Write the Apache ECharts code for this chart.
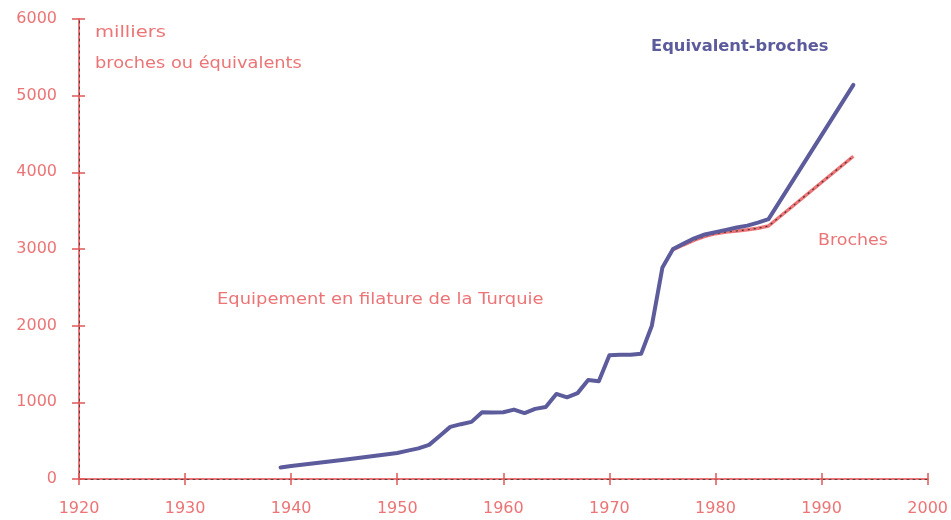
<!DOCTYPE html>
<html>
<head>
<meta charset="utf-8">
<script src="https://cdn.jsdelivr.net/npm/echarts@6/dist/echarts.min.js"></script>
<style>html,body{margin:0;padding:0;background:#fff;}#c{width:951px;height:520px;}</style>
</head>
<body>
<div id="c"></div>
<script>
// Data
const equivYears  = [1939,1940,1945,1950,1951,1952,1953,1954,1955,1956,1957,1958,1959,1960,1961,1962,1963,1964,1965,1966,1967,1968,1969,1970,1971,1972,1973,1974,1975,1976,1977,1978,1979,1980,1981,1982,1983,1984,1985,1993];
const equivValues = [150,170,250,340,370,400,445,560,680,715,745,870,868,870,905,860,915,940,1110,1065,1120,1290,1275,1615,1620,1620,1635,2000,2760,3000,3070,3140,3190,3220,3250,3280,3305,3345,3390,5140];
const brochesYears  = [1976,1977,1978,1979,1980,1981,1982,1983,1984,1985,1993];
const brochesValues = [2990,3055,3115,3165,3200,3220,3235,3250,3270,3300,4210];
const xTicks = [1920,1930,1940,1950,1960,1970,1980,1990,2000];
const yTicks = [0,1000,2000,3000,4000,5000,6000];

const RED = '#ec7476';
const BLUE = '#5c5b9c';
const FONT = 'DejaVu Sans';

const pairs = (xs, ys) => xs.map((x, i) => [x, ys[i]]);

const chart = echarts.init(document.getElementById('c'), null, {renderer: 'canvas'});

const xBase = {
  type: 'value', min: xTicks[0], max: xTicks[xTicks.length - 1], interval: 10,
  splitLine: {show: false}, position: 'bottom', gridIndex: 0
};
const yBase = {
  type: 'value', min: yTicks[0], max: yTicks[yTicks.length - 1], interval: 1000,
  splitLine: {show: false}, position: 'left', gridIndex: 0
};

function label(text, x, y, sx, color, weight) {
  return {
    type: 'text', x: x, y: y, scaleX: sx, scaleY: 1,
    style: {text: text, fill: color, font: (weight || '') + ' 16px "DejaVu Sans"',
      verticalAlign: 'middle', align: 'left'}
  };
}

chart.setOption({
  animation: false,
  backgroundColor: '#fff',
  grid: {left: 79, right: 23, top: 19, bottom: 41, containLabel: false},
  xAxis: [
    Object.assign({}, xBase, {
      axisLine: {show: true, lineStyle: {color: RED, width: 2}},
      axisTick: {show: true, inside: false, length: 6, lineStyle: {color: '#e05858', width: 1.5}},
      axisLabel: {show: true, margin: 22, color: RED, fontFamily: FONT, fontSize: 16,
        formatter: v => String(v)}
    }),
    Object.assign({}, xBase, {
      axisLine: {show: true, lineStyle: {color: '#333', width: 1, type: [2, 4], opacity: 0.8}},
      axisTick: {show: true, inside: true, length: 6, lineStyle: {color: '#e05858', width: 1.5}},
      axisLabel: {show: false}
    })
  ],
  yAxis: [
    Object.assign({}, yBase, {
      axisLine: {show: true, lineStyle: {color: RED, width: 2}},
      axisTick: {show: true, inside: false, length: 7, lineStyle: {color: '#e05858', width: 1.5}},
      axisLabel: {show: true, margin: 22, color: RED, fontFamily: FONT, fontSize: 16,
        formatter: v => String(v)}
    }),
    Object.assign({}, yBase, {
      axisLine: {show: true, lineStyle: {color: '#333', width: 1, type: [2, 4], opacity: 0.8}},
      axisTick: {show: true, inside: true, length: 6, lineStyle: {color: '#e05858', width: 1.5}},
      axisLabel: {show: false}
    })
  ],
  series: [
    {
      name: 'Broches', type: 'line', xAxisIndex: 0, yAxisIndex: 0,
      data: pairs(brochesYears, brochesValues), showSymbol: false, symbol: 'none',
      lineStyle: {color: RED, width: 3.5}, z: 3
    },
    {
      name: 'Broches (pointillé)', type: 'line', xAxisIndex: 0, yAxisIndex: 0,
      data: pairs(brochesYears, brochesValues), showSymbol: false, symbol: 'none',
      lineStyle: {color: '#222', width: 1.2, type: [2, 4], opacity: 0.8}, z: 4
    },
    {
      name: 'Equivalent-broches', type: 'line', xAxisIndex: 0, yAxisIndex: 0,
      data: pairs(equivYears, equivValues), showSymbol: false, symbol: 'none',
      lineStyle: {color: BLUE, width: 4, join: 'round', cap: 'round'}, z: 5
    }
  ],
  graphic: [
    label('milliers', 95, 33, 1.22, RED),
    label('broches ou équivalents', 95, 64, 1.11, RED),
    label('Equivalent-broches', 651, 47, 1.02, BLUE, 'bold'),
    label('Broches', 818, 241, 1.09, RED),
    label('Equipement en filature de la Turquie', 217, 300, 1.12, RED)
  ]
});
</script>
</body>
</html>
